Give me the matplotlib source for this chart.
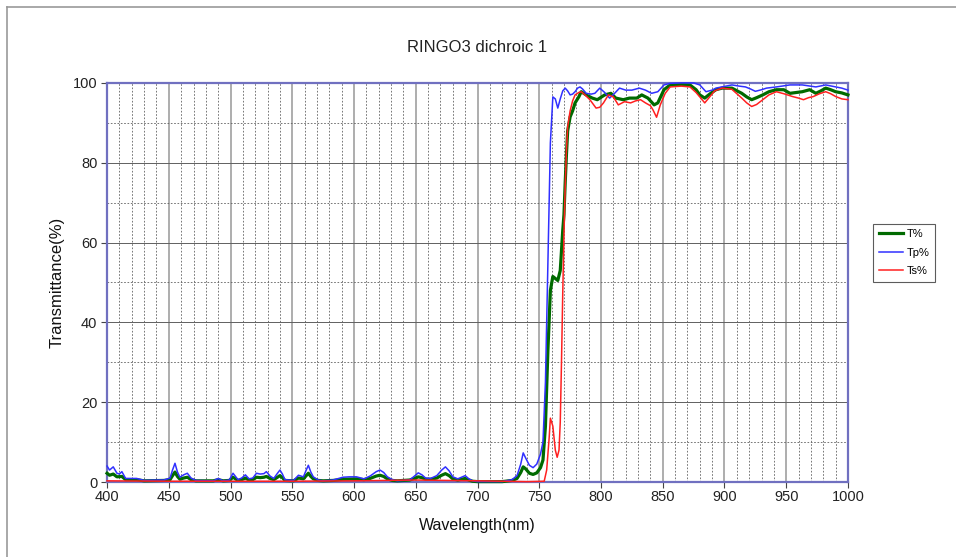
import matplotlib
matplotlib.use("Agg")
import matplotlib.pyplot as plt
from matplotlib.lines import Line2D
from matplotlib.ticker import MultipleLocator

plt.rcParams["font.family"] = ["Liberation Sans", "DejaVu Sans"]

title = "RINGO3 dichroic 1"
x_label = "Wavelength(nm)"
y_label = "Transmittance(%)"
series_names = ["T%", "Tp%", "Ts%"]

# Tp% (blue)
tp_nm = [400, 402, 405, 408, 410, 412, 415, 424, 430, 440, 446, 451, 453, 455, 457,
         459, 462, 465, 468, 472, 486, 490, 494, 499, 502, 506, 509, 512, 515, 518,
         521, 524, 527, 529, 532, 535, 538, 540, 542, 544, 551, 555, 559, 561, 563,
         565, 567, 571, 575, 583, 591, 596, 602, 608, 613, 618, 621, 624, 627, 631,
         635, 645, 649, 652, 655, 658, 662, 667, 671, 674, 677, 680, 684, 687, 690,
         693, 696, 700, 720, 728, 732, 735, 737, 739, 742, 745, 748, 751, 753, 755,
         757, 759, 761, 763, 765, 767, 769, 771, 773, 775, 777, 779, 781, 783, 785,
         788, 792, 795, 799, 803, 807, 811, 815, 820, 825, 831, 836, 841, 846, 851,
         856, 865, 875, 880, 885, 890, 893, 898, 906, 912, 917, 921, 925, 930, 934,
         942, 953, 963, 974, 982, 990, 995, 1000]
tp_val = [4.0, 3.0, 3.8, 2.2, 2.0, 2.6, 0.9, 0.9, 0.4, 0.5, 0.5, 1.0, 3.0, 4.7, 2.5,
          1.2, 1.8, 2.2, 1.0, 0.4, 0.3, 0.9, 0.3, 0.5, 2.2, 0.6, 1.0, 1.8, 0.8, 1.0,
          2.2, 2.0, 2.1, 2.6, 1.5, 0.9, 2.2, 3.0, 2.0, 0.6, 0.4, 1.7, 1.3, 2.8, 4.2,
          2.5, 1.3, 0.5, 0.3, 0.5, 1.2, 1.3, 1.3, 0.8, 1.5, 2.6, 3.0, 2.4, 1.3, 0.6,
          0.3, 0.5, 1.5, 2.3, 1.8, 1.0, 0.9, 1.6, 3.0, 3.8, 2.8, 1.3, 0.8, 1.2, 1.6,
          0.8, 0.3, 0.1, 0.1, 0.6, 1.6, 4.5, 7.3, 6.0, 4.2, 3.6, 4.5, 7.0, 10.0, 25.0,
          55.0, 85.0, 96.5, 96.0, 93.7, 96.0, 98.0, 98.7, 98.0, 97.0, 97.2, 97.8, 98.7, 99.0, 98.5,
          97.4, 97.2, 97.4, 98.7, 97.6, 96.2, 97.4, 98.7, 98.2, 98.2, 98.7, 98.2, 97.4, 97.8, 99.5,
          99.9, 100.0, 100.0, 99.5, 97.8, 98.2, 98.7, 99.0, 99.5, 99.2, 99.0, 98.5, 97.9, 98.3, 98.7,
          99.0, 99.5, 99.5, 99.0, 99.5, 99.0, 98.7, 98.2]

# Ts% (red)
ts_nm = [400, 450, 500, 550, 600, 650, 700, 740, 754, 756, 758, 759, 761, 763, 764.5,
         766, 767, 768, 769, 770, 771, 772, 773, 775, 777, 779, 782, 784, 787, 791,
         796, 799, 802, 806, 810, 814, 819, 824, 828, 832, 836, 840, 842, 845, 848,
         852, 856, 865, 872, 877, 880, 884, 888, 892, 898, 906, 914, 918, 922, 926,
         931, 936, 942, 948, 955, 960, 964, 968, 972, 977, 982, 986, 990, 995, 1000]
ts_val = [0.3, 0.2, 0.2, 0.2, 0.3, 0.5, 0.3, 0.1, 0.2, 3.0, 11.0, 16.0, 14.0, 8.0, 6.2,
          8.0, 15.0, 30.0, 47.0, 62.0, 74.0, 83.0, 89.0, 93.0, 95.5, 97.0, 97.6, 97.8, 97.0, 95.8,
          93.7, 93.9, 95.0, 97.0, 96.5, 94.5, 95.3, 95.0, 95.5, 95.8, 95.0, 94.3, 93.3, 91.4, 94.5,
          97.4, 99.0, 99.2, 99.0, 97.6, 96.5, 95.0, 96.5, 98.0, 98.7, 98.4, 96.2, 95.0, 94.1, 94.6,
          95.8, 97.0, 97.8, 97.3, 96.6, 96.2, 95.8, 96.3, 96.6, 97.3, 97.8, 97.3, 96.6, 96.0, 95.8]

# T% (green)
t_nm = [400, 402, 405, 408, 412, 415, 424, 430, 446, 451, 453, 455, 457, 459, 462,
        465, 468, 472, 486, 490, 494, 499, 502, 506, 509, 512, 515, 518, 521, 524,
        527, 529, 532, 535, 538, 540, 542, 544, 551, 555, 559, 561, 563, 565, 567,
        571, 575, 583, 591, 602, 608, 613, 618, 621, 624, 627, 631, 635, 645, 649,
        652, 655, 658, 662, 667, 671, 674, 677, 680, 684, 687, 690, 693, 696, 700,
        720, 728, 732, 735, 737, 739, 742, 745, 748, 751, 753, 755, 757, 759, 761,
        763, 765, 767, 768, 769, 770, 771, 772, 773, 775, 777, 779, 782, 784, 788,
        793, 797, 803, 808, 812, 818, 823, 829, 833, 838, 843, 846, 851, 856, 865,
        872, 877, 880, 884, 888, 893, 898, 906, 914, 918, 922, 926, 931, 936, 942,
        948, 953, 958, 963, 969, 974, 978, 982, 986, 990, 995, 1000]
t_val = [2.2, 1.7, 2.0, 1.3, 1.4, 0.6, 0.6, 0.3, 0.4, 0.6, 1.6, 2.5, 1.4, 0.7, 1.0,
         1.2, 0.6, 0.3, 0.3, 0.6, 0.3, 0.4, 1.2, 0.4, 0.6, 1.0, 0.5, 0.6, 1.2, 1.1,
         1.2, 1.4, 0.9, 0.6, 1.2, 1.6, 1.1, 0.4, 0.3, 1.0, 0.8, 1.5, 2.2, 1.4, 0.8,
         0.4, 0.3, 0.4, 0.7, 0.8, 0.6, 0.9, 1.5, 1.7, 1.4, 0.8, 0.4, 0.3, 0.5, 0.9,
         1.3, 1.1, 0.7, 0.7, 1.0, 1.7, 2.1, 1.6, 0.8, 0.5, 0.7, 0.9, 0.5, 0.2, 0.1,
         0.1, 0.4, 0.9, 2.4, 3.8, 3.3, 2.2, 1.9, 2.3, 3.6, 5.5, 14.0, 33.0, 48.0, 51.5,
         51.0, 50.5, 53.0, 58.0, 63.0, 67.0, 75.0, 82.0, 88.0, 91.5, 93.0, 95.0, 96.5, 97.8, 97.0,
         96.2, 95.8, 97.0, 97.4, 96.2, 95.8, 96.2, 96.2, 97.0, 96.2, 94.5, 95.0, 98.3, 99.5, 99.6,
         99.5, 98.3, 97.0, 96.2, 97.2, 98.3, 98.7, 98.7, 97.4, 96.5, 95.8, 96.3, 97.0, 97.8, 98.3,
         98.3, 97.4, 97.6, 97.8, 98.3, 97.4, 98.0, 98.7, 98.3, 97.8, 97.5, 97.0]

x_ticks = [400, 450, 500, 550, 600, 650, 700, 750, 800, 850, 900, 950, 1000]
y_ticks = [0, 20, 40, 60, 80, 100]

fig = plt.figure(figsize=(9.56, 5.57), dpi=100)
ax = fig.add_axes([0.112, 0.1346, 0.775, 0.7165])

# chart-area border (cropped on right/bottom)
fig.add_artist(Line2D([7 / 956, 1], [1 - 7 / 557] * 2, color="#999999", lw=1.2))
fig.add_artist(Line2D([7 / 956] * 2, [0, 1 - 7 / 557], color="#999999", lw=1.2))

ax.plot(t_nm, t_val, color="#006a00", lw=2.3, label=series_names[0], zorder=3, clip_on=False)
ax.plot(tp_nm, tp_val, color="#3030ff", lw=1.1, label=series_names[1], zorder=3.1, clip_on=False)
ax.plot(ts_nm, ts_val, color="#ff2020", lw=1.1, label=series_names[2], zorder=3.2, clip_on=False)

ax.set_xlim(400, 1000)
ax.set_ylim(0, 100)
ax.set_xticks(x_ticks)
ax.set_yticks(y_ticks)
ax.xaxis.set_minor_locator(MultipleLocator(10))
ax.yaxis.set_minor_locator(MultipleLocator(10))

ax.grid(which="major", axis="x", color="#a0a0a0", lw=1.2, linestyle="-")
ax.grid(which="minor", axis="x", color="#606060", lw=0.6, linestyle=(0, (2, 2)))
ax.grid(which="major", axis="y", color="#606060", lw=0.7, linestyle="-")
ax.grid(which="minor", axis="y", color="#606060", lw=0.6, linestyle=(0, (2, 2)))
ax.set_axisbelow(True)

for side in ax.spines.values():
    side.set_color("#7070c0")
    side.set_linewidth(1.6)

ax.tick_params(which="major", direction="out", length=4, width=0.8, color="#444444",
               labelsize=10.5, labelcolor="#222222")
ax.tick_params(axis="x", which="major", pad=2)
ax.tick_params(axis="y", which="major", pad=3)
ax.tick_params(which="minor", length=0)

ax.set_xlabel(x_label, fontsize=11.5, color="#111111", labelpad=10)
ax.set_ylabel(y_label, fontsize=12, color="#111111", labelpad=6)
fig.text(0.4995, 1 - 47 / 557, title, ha="center", va="center", fontsize=12, color="#222222")

leg = ax.legend(loc="upper left", bbox_to_anchor=(1.034, 0.647), borderaxespad=0,
                fontsize=8, frameon=True, fancybox=False, handlelength=2.2,
                handletextpad=0.3, labelspacing=0.75, borderpad=0.5)
leg.get_frame().set_edgecolor("#333333")
leg.get_frame().set_linewidth(0.8)

fig.savefig("out.png", dpi=100)
